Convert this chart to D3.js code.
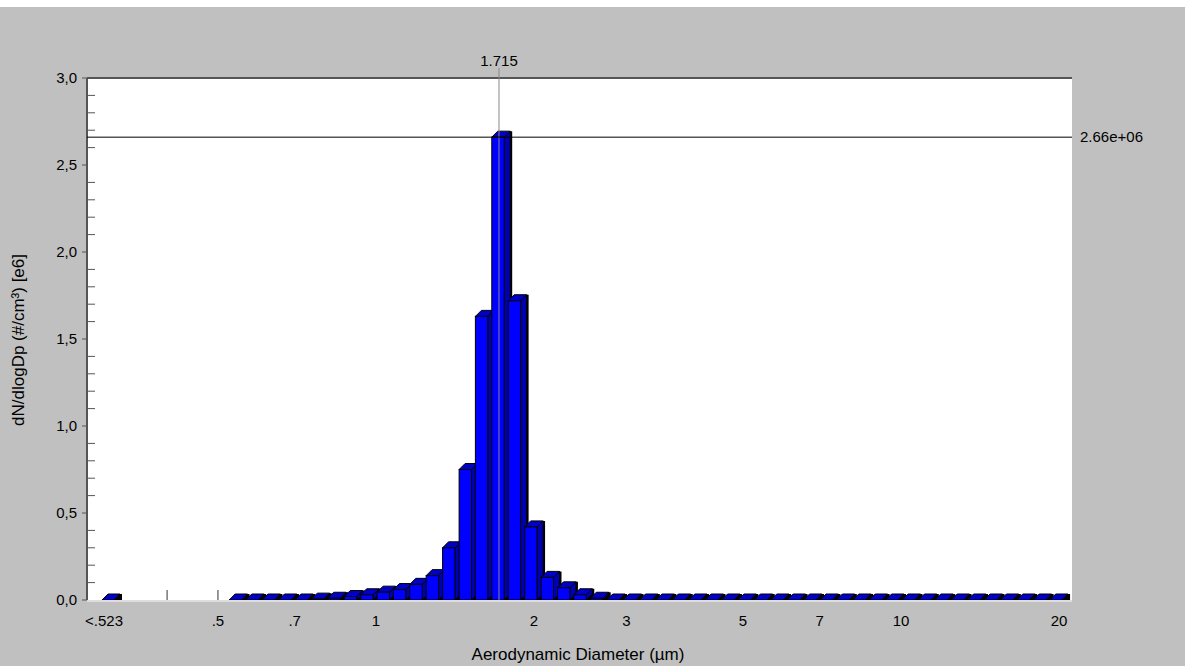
<!DOCTYPE html>
<html><head><meta charset="utf-8">
<script src="https://cdn.jsdelivr.net/npm/d3@7"></script>
<style>body{margin:0;background:#fff}text{font-family:"Liberation Sans",Arial,sans-serif;font-size:15px;fill:#000}</style>
</head><body><svg id="c" width="1185" height="666"></svg>
<script>
const diameters=[0.542,0.583,0.626,0.673,0.723,0.777,0.835,0.898,0.965,1.037,1.114,1.197,1.286,1.382,1.486,1.596,1.715,1.843,1.981,2.129,2.288,2.458,2.642,2.839,3.051,3.278,3.523,3.786,4.068,4.371,4.698,5.048,5.425,5.829,6.264,6.732,7.234,7.774,8.354,8.977,9.647,10.37,11.14,11.97,12.86,13.82,14.86,15.96,17.15,18.43,19.81];
const values=[0,0,0,0,0,0.005,0.01,0.02,0.03,0.045,0.06,0.09,0.14,0.30,0.75,1.63,2.66,1.72,0.42,0.13,0.07,0.03,0.01,0,0,0,0,0,0,0,0,0,0,0,0,0,0,0,0,0,0,0,0,0,0,0,0,0,0,0,0];
const underflowLabel="<.523", underflowValue=0;
const xTickVals=[0.5,0.7,1,2,3,5,7,10,20];
const xTickLabels=[".5",".7","1","2","3","5","7","10","20"];
const yTicks=[0,0.5,1,1.5,2,2.5,3];
const peakD=1.715, peakLabel="1.715", peakVal=2.66, peakValLabel="2.66e+06";

const svg=d3.select("#c");
svg.append("rect").attr("x",0).attr("y",7).attr("width",1185).attr("height",659).attr("fill","#c0c0c0");
const L=87,R=1072,T=78,B=600;
svg.append("rect").attr("x",L).attr("y",T).attr("width",R-L).attr("height",B-T).attr("fill","#fff");
const x=d3.scaleLog().domain([1,10]).range([376,901]);
const y=d3.scaleLinear().domain([0,3]).range([B,T]);
const f=Math.pow(10,1/64);
const dep=6;
function bar(x0,x1,v){
  const yt=y(v), g=svg.append("g");
  g.append("path").attr("d",`M${x1},${B} L${x1},${yt} L${x1+dep},${yt-dep} L${x1+dep+2},${yt-dep} L${x1+dep+2},${B}Z`).attr("fill","#000");
  g.append("path").attr("d",`M${x1},${B} L${x1},${yt} L${x1+dep},${yt-dep} L${x1+dep},${B-dep}Z`).attr("fill","#0000b0").attr("stroke","#000").attr("stroke-width",0.8);
  g.append("path").attr("d",`M${x0},${yt} L${x0+dep},${yt-dep} L${x1+dep},${yt-dep} L${x1},${yt}Z`).attr("fill","#0000c8").attr("stroke","#000").attr("stroke-width",1);
  if(B-yt>0.5) g.append("rect").attr("x",x0).attr("y",yt).attr("width",x1-x0).attr("height",B-yt).attr("fill","#0000ff").attr("stroke","#000").attr("stroke-width",1);
}
bar(102,114,underflowValue);
diameters.forEach((d,i)=>bar(x(d/f)+1,x(d*f)-dep+3,values[i]));
svg.append("line").attr("x1",L).attr("x2",R).attr("y1",T).attr("y2",T).attr("stroke","#555").attr("stroke-width",2);
svg.append("line").attr("x1",L).attr("x2",L).attr("y1",T).attr("y2",B).attr("stroke","#555").attr("stroke-width",2);
svg.append("line").attr("x1",L).attr("x2",R).attr("y1",B+1).attr("y2",B+1).attr("stroke","#ddd").attr("stroke-width",2);
yTicks.forEach(t=>{
  svg.append("line").attr("x1",L-5).attr("x2",L).attr("y1",y(t)).attr("y2",y(t)).attr("stroke","#555");
  svg.append("text").attr("x",L-10).attr("y",y(t)+5).attr("text-anchor","end").text(d3.format(".1f")(t).replace(".",","));
});
d3.range(1,30).forEach(i=>{const t=i/10; if(i%5) svg.append("line").attr("x1",L).attr("x2",L+8).attr("y1",y(t)).attr("y2",y(t)).attr("stroke","#555");});
xTickVals.forEach((t,i)=>svg.append("text").attr("x",x(t)).attr("y",626).attr("text-anchor","middle").text(xTickLabels[i]));
svg.append("text").attr("x",104).attr("y",626).attr("text-anchor","middle").text(underflowLabel);
[x(0.4),x(0.5)].forEach(v=>svg.append("line").attr("x1",v).attr("x2",v).attr("y1",B-10).attr("y2",B).attr("stroke","#333"));
svg.append("line").attr("x1",x(peakD)).attr("x2",x(peakD)).attr("y1",68).attr("y2",B).attr("stroke","#888");
svg.append("text").attr("x",x(peakD)).attr("y",66).attr("text-anchor","middle").text(peakLabel);
svg.append("line").attr("x1",L).attr("x2",R).attr("y1",y(peakVal)).attr("y2",y(peakVal)).attr("stroke","#000");
svg.append("text").attr("x",1080).attr("y",y(peakVal)+5).text(peakValLabel);
svg.append("text").attr("x",578).attr("y",660).attr("text-anchor","middle").style("font-size","17px").text("Aerodynamic Diameter (µm)");
svg.append("text").attr("transform","translate(24,340) rotate(-90)").attr("text-anchor","middle").style("font-size","17px").text("dN/dlogDp (#/cm³) [e6]");
</script></body></html>
